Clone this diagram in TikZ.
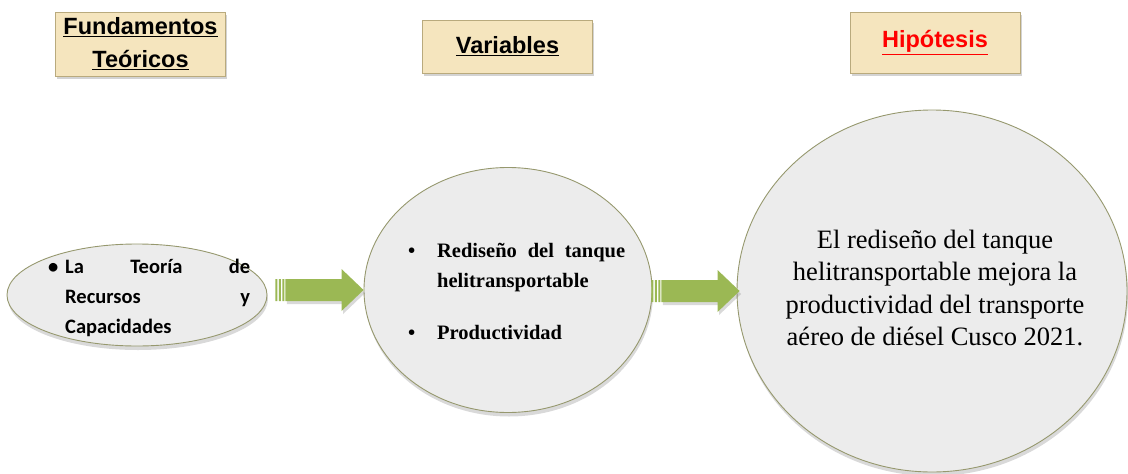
\documentclass[tikz,border=0pt]{standalone}
\usepackage{fontspec}
\setmainfont{Liberation Serif}
\newfontfamily\headfont{Liberation Sans}
\newfontfamily\calib{Carlito}
\usetikzlibrary{shapes.geometric,shadows,calc}
\definecolor{boxfill}{RGB}{245,229,190}
\definecolor{boxline}{RGB}{185,170,125}
\definecolor{ovalfill}{RGB}{236,236,236}
\definecolor{ovalline}{RGB}{150,152,110}
\definecolor{arrowgreen}{RGB}{155,184,84}
\definecolor{hypred}{RGB}{255,0,0}
\hbadness=10000

% bulleted justified item: #1 bullet column width, #2 text width, #3 text
\newcommand\bulletitem[3]{%
  \makebox[#1][l]{\textbullet}\parbox[t]{#2}{#3}}

% block arrow: #1 start anchor, #2 start offset, #3 tip anchor, #4 tip offset
\newcommand\blockarrow[4]{%
  \fill[arrowgreen, drop shadow={opacity=0.3, shadow xshift=1.5pt, shadow yshift=-3pt}]
    let \p1=#1, \p2=#3, \n1={\x1+#2pt}, \n2={\x2+#4pt} in
    (\n1+10pt,\y2+11pt) -- (\n2-22pt,\y2+11pt) -- (\n2-22pt,\y2+21pt) -- (\n2,\y2)
    -- (\n2-22pt,\y2-21pt) -- (\n2-22pt,\y2-11pt) -- (\n1+10pt,\y2-11pt) -- cycle;
  \fill[arrowgreen]
    let \p1=#1, \p2=#3, \n1={\x1+#2pt} in
    (\n1,\y2+11pt) rectangle (\n1+2pt,\y2-11pt)
    (\n1+3.4pt,\y2+11pt) rectangle (\n1+5.4pt,\y2-11pt)
    (\n1+6.8pt,\y2+11pt) rectangle (\n1+8.8pt,\y2-11pt);
}

\begin{document}
\begin{tikzpicture}[x=1pt,y=-1pt,
  headbox/.style={draw=boxline, line width=0.8pt, fill=boxfill, minimum width=170pt,
    inner sep=0pt, align=center, font=\headfont\bfseries\fontsize{23.5}{33}\selectfont,
    drop shadow={opacity=0.35, shadow xshift=1.5pt, shadow yshift=-3pt}},
  oval/.style={ellipse, draw=ovalline, line width=0.9pt, fill=ovalfill, inner sep=0pt,
    drop shadow={opacity=0.3, shadow xshift=1pt, shadow yshift=-4pt}},
  ovaltext/.style={inner sep=0pt, anchor=north west, align=left},
]
\useasboundingbox (0,0) rectangle (1128,474);

% column headings
\node[headbox, minimum height=64pt] (h1) at (140.5,44) {\underline{Fundamentos}\\\underline{Teóricos}};
\node[headbox, minimum height=53pt] (h2) at (507.5,46.5) {\underline{Variables}};
\node[headbox, minimum height=61pt, text=hypred] (h3) at (935,42.5) {\underline{Hipótesis}};

% ovals
\node[oval, minimum width=260pt, minimum height=102pt] (e1) at (137,295) {};
\node[oval, minimum width=288pt, minimum height=245pt] (e2) at (508,290) {};
\node[oval, minimum width=390pt, minimum height=362pt] (e3) at (932,291) {};

% oval contents
\node[ovaltext, font=\calib\bfseries\fontsize{20.5}{30}\selectfont] (t1) at (48,259)
  {\bulletitem{17pt}{185pt}{La Teoría de\linebreak Recursos y\linebreak Capacidades}};
\node[ovaltext, font=\bfseries\fontsize{20.5}{30}\selectfont] (t2) at (408,243)
  {\bulletitem{29pt}{188pt}{Rediseño del tanque\linebreak helitransportable}\\[32pt]
   \bulletitem{29pt}{188pt}{Productividad}};
\node[inner sep=0pt, anchor=north, align=center, font=\fontsize{26.5}{32.3}\selectfont] (t3) at (935,230)
  {El rediseño del tanque\\helitransportable mejora la\\productividad del transporte\\aéreo de diésel Cusco 2021.};

% connecting block arrows
\blockarrow{(e1.east)}{8}{(e2.west)}{0}
\blockarrow{(e2.east)}{-1}{(e3.west)}{3}
\end{tikzpicture}
\end{document}
